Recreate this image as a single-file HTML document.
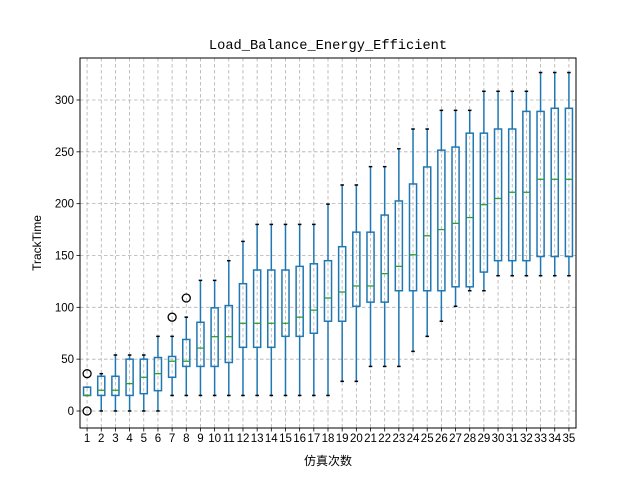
<!DOCTYPE html>
<html><head><meta charset="utf-8">
<style>
html,body{margin:0;padding:0;background:#fff;}
svg{display:block;font-family:"Liberation Sans","Noto Sans CJK SC",sans-serif;}
</style></head>
<body>
<svg id="chart" width="640" height="480" viewBox="0 0 640 480" xmlns="http://www.w3.org/2000/svg">
<rect x="0" y="0" width="640" height="480" fill="#fff"/>
<g id="grid"></g>
<g id="boxes"></g>
<g id="axes"></g>
<text x="328" y="49" text-anchor="middle" font-family="Liberation Mono, monospace" font-size="13.7">Load_Balance_Energy_Efficient</text>
<text x="328" y="465" text-anchor="middle" font-size="12" font-family="Liberation Sans, Noto Sans CJK SC, sans-serif">仿真次数</text>
<text x="41" y="243" text-anchor="middle" font-size="12" transform="rotate(-90 41 243)">TrackTime</text>
</svg>
<script>
const categories = Array.from({length:35},(_,i)=>String(i+1));
const whiskerLow = [15,0,0,0,0,0,15,15,15,15,15,15,15,15,15,15,15,15,28.6,28.6,43,43,43,57.5,72,86.6,101,116,116,130.5,130.5,130.5,130.5,130.5,130.5];
const q1Values = [15,15,15,15,16.7,19.6,32.5,43,43,43,46.8,61.4,61.4,61.4,72,72,75,86.6,86.6,101,105,105,116,116,116,116,119.8,119.8,134,145,145,145,149,149,149];
const medianValues = [15,20,20,26.4,32.5,36,48,48,60.7,71.7,71.7,84.6,84.6,84.6,84.6,90.5,97.3,109,114.8,120.6,120.6,132.5,139.5,150.7,169,175,181,186.6,199,205,211,211,223.5,223.5,223.5];
const q3Values = [23,33.5,33.5,50,50,51.6,52.6,69,85.6,99.5,101.7,122.8,136,136,136,139.5,142,145,158.5,172.5,172.5,189,202.6,219,235.4,251.6,254.6,268,268,272,272,289,289,292,292];
const whiskerHigh = [23,36,54,54,54,72,72,90.5,126,126,145,163.6,180,180,180,180,180,199.5,218,218,235.7,235.7,253,272,272,290,290,290,308.4,308.4,308.4,308.4,326.5,326.5,326.5];
const outlierCats = [1,1,7,8];
const outlierValues = [36,0,90.5,109];
const yTicks = [0,50,100,150,200,250,300];

const L=80,R=576,T=58,B=428,ymin=-16.4,ymax=340.5;
const xs=i=>L+(i-0.5)*(R-L)/categories.length;
const ys=v=>B-(v-ymin)/(ymax-ymin)*(B-T);
const NS='http://www.w3.org/2000/svg';
function mk(tag,attrs,parent){const e=document.createElementNS(NS,tag);for(const k in attrs)e.setAttribute(k,attrs[k]);parent.appendChild(e);return e;}
const grid=document.getElementById('grid'),boxes=document.getElementById('boxes'),axes=document.getElementById('axes');
categories.forEach((c,i)=>{
  const x=xs(i+1);
  const g=mk('line',{x1:x,x2:x,y1:T,y2:B,stroke:'#b0b0b0','stroke-width':0.8,'stroke-dasharray':'3.5,2.5'},grid);
  
  
});
yTicks.forEach(v=>{
  const y=ys(v);
  const g=mk('line',{x1:L,x2:R,y1:y,y2:y,stroke:'#b0b0b0','stroke-width':0.8,'stroke-dasharray':'3.5,2.5'},grid);
  
  
  const t=mk('line',{x1:L-3.5,x2:L,y1:y,y2:y,stroke:'#000','stroke-width':0.8},axes);
  
  
  const l=mk('text',{x:L-6,y:y+4,'text-anchor':'end','font-size':11.5},axes);
  l.textContent=v;
  
  
});
const bw=(R-L)/categories.length*0.5;
categories.forEach((c,i)=>{
  const x=xs(i+1);
  const g=mk('g',{},boxes);
  
  
  mk('line',{x1:x,x2:x,y1:ys(whiskerLow[i]),y2:ys(q1Values[i]),stroke:'#1f77b4','stroke-width':1.5},g);
  mk('line',{x1:x,x2:x,y1:ys(q3Values[i]),y2:ys(whiskerHigh[i]),stroke:'#1f77b4','stroke-width':1.5},g);
  mk('line',{x1:x-bw/4,x2:x+bw/4,y1:ys(whiskerLow[i]),y2:ys(whiskerLow[i]),stroke:'#000','stroke-width':1.5},g);
  mk('line',{x1:x-bw/4,x2:x+bw/4,y1:ys(whiskerHigh[i]),y2:ys(whiskerHigh[i]),stroke:'#000','stroke-width':1.5},g);
  mk('rect',{x:x-bw/2,y:ys(q3Values[i]),width:bw,height:Math.max(0,ys(q1Values[i])-ys(q3Values[i])),fill:'none',stroke:'#1f77b4','stroke-width':1.5},g);
  mk('line',{x1:x-bw/2,x2:x+bw/2,y1:ys(medianValues[i]),y2:ys(medianValues[i]),stroke:'#2ca02c','stroke-width':1.3},g);
  const t=mk('line',{x1:x,x2:x,y1:B,y2:B+3.5,stroke:'#000','stroke-width':0.8},axes);
  
  
  const l=mk('text',{x:x,y:B+14,'text-anchor':'middle','font-size':11.5},axes);
  l.textContent=c;
  
  
});
outlierCats.forEach((c,j)=>{
  const o=mk('circle',{cx:xs(c),cy:ys(outlierValues[j]),r:4,fill:'none',stroke:'#000','stroke-width':1.3},boxes);
  
  
});
const f=mk('rect',{x:L,y:T,width:R-L,height:B-T,fill:'none',stroke:'#000','stroke-width':1},axes);


</script>
</body></html>
